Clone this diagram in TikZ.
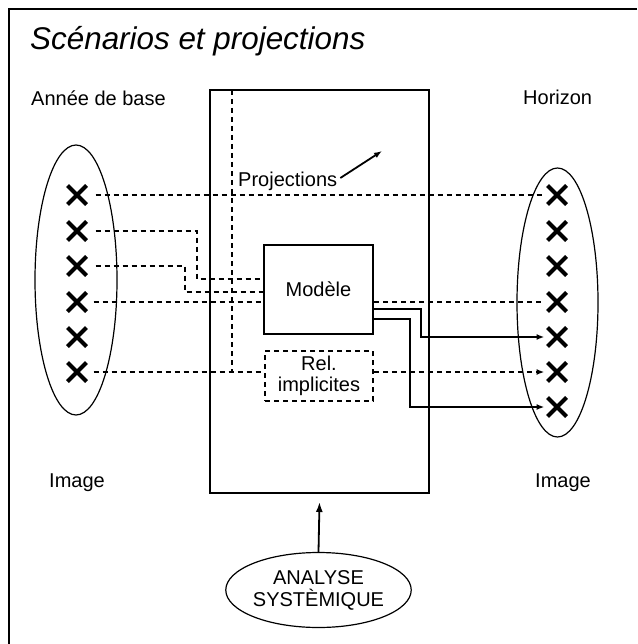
\documentclass[tikz,border=0pt]{standalone}
\usepackage{fontspec}
\setmainfont{Liberation Sans}
\usetikzlibrary{shapes.geometric,shapes.misc,arrows.meta}
\begin{document}
\begin{tikzpicture}[x=1pt,y=-1pt,
  every node/.style={font=\fontsize{20}{22}\selectfont, inner sep=0pt},
  xmark/.style={cross out, draw, line width=4pt, minimum size=15pt, inner sep=0pt},
  dsh/.style={dash pattern=on 5pt off 4pt, line width=1.8pt},
  sol/.style={line width=1.8pt},
  tip/.style={-{Latex[length=8pt,width=6pt]}},
  ell/.style={ellipse, draw, line width=1.2pt},
  lbl/.style={anchor=base west}]
\useasboundingbox (0,0) rectangle (637,644);
% frame
\draw[line width=2.2pt] (637,9) -- (9,9) -- (9,644);
% title
\node[lbl, font=\fontsize{31.4}{34}\selectfont\itshape] (title) at (30,50) {Scénarios et projections};
\node[lbl] (annee) at (31,106) {Année de base};
\node[lbl] (horizon) at (523,105) {Horizon};
\node[lbl] (imgL) at (49,487) {Image};
\node[lbl] (imgR) at (535,487) {Image};
% ellipses
\node[ell, minimum width=82pt, minimum height=270pt] (LE) at (76,280) {};
\node[ell, minimum width=81pt, minimum height=269pt] (RE) at (557.5,302.5) {};
% main box
\node[draw, line width=2pt, minimum width=219pt, minimum height=403pt] (main) at (319.5,291.5) {};
% modele & rel
\node[draw, line width=2pt, minimum width=109pt, minimum height=89pt] (mod) at (318.5,289.5) {Modèle};
\node[draw, dsh, minimum width=108pt, minimum height=50pt, align=center, font=\fontsize{20}{21}\selectfont] (rel) at (319,376) {Rel.\\implicites};
% analyse
\node[ell, minimum width=157pt, minimum height=75pt, align=center] (ana) at (318.5,590) {ANALYSE\\SYSTÈMIQUE};
\draw[sol, -{Latex[length=10pt,width=7pt]}] (ana.north) -- ([yshift=-8pt]main.south);
% crosses
\foreach \i/\y in {1/195,2/231,3/266,4/302,5/337,6/372}
  \node[xmark] (L\i) at (77,\y) {};
\foreach \i/\y in {1/195,2/231,3/266,4/302,5/337,6/372,7/407}
  \node[xmark] (R\i) at (557,\y) {};
% projections
\node[lbl] (proj) at (238,187) {Projections};
\coordinate (ptip) at (382,151);
\draw[sol, tip] ([shift={(3,-9)}]proj.base east) -- (ptip);
% vertical dashed
\coordinate (vtop) at (232,90);
\draw[dsh] (vtop) -- (232,372);
% dashed connectors
\draw[dsh] ([xshift=9pt]L1.east) -- ([xshift=-3pt]R1.west);
\draw[dsh] ([xshift=9pt]L2.east) -- (197,231) -- (197,279) -- (mod.west |- 0,279);
\draw[dsh] ([xshift=9pt]L3.east) -- (185,266) -- (185,292) -- (mod.west |- 0,292);
\draw[dsh] ([xshift=7pt]L4.east) -- (mod.west |- L4);
\draw[dsh] (mod.east |- R4) -- ([xshift=-3pt]R4.west);
\draw[dsh] ([xshift=7pt]L6.east) -- (rel.west |- L6);
\draw[dsh, tip] (rel.east |- R6) -- ([xshift=-3pt]R6.west);
% solid connectors
\draw[sol, tip] (mod.east |- 0,309) -- (421,309) -- (421,337) -- ([xshift=-3pt]R5.west);
\draw[sol, tip] (mod.east |- 0,319) -- (410,319) -- (410,407) -- ([xshift=-3pt]R7.west);
\end{tikzpicture}
\end{document}
